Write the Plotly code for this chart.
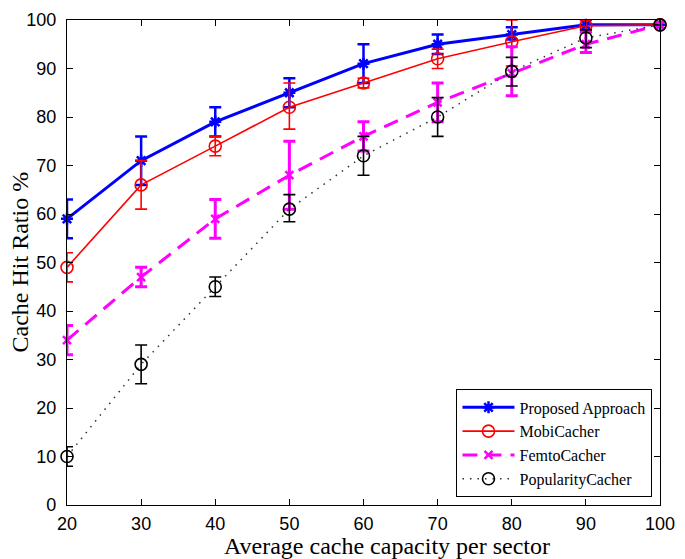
import plotly.graph_objects as go

x = [20, 30, 40, 50, 60, 70, 80, 90, 100]

proposed = [59, 71, 79, 85, 91, 95, 97, 99, 99]
proposed_lo = [55, 66, 76, 82, 87, 93, 96, 98, 99]
proposed_hi = [63, 76, 82, 88, 95, 97, 98.5, 100, 99]

mobi = [49, 66, 74, 82, 87, 92, 95.5, 98.8, 99]
mobi_lo = [46, 61, 72, 77.5, 86, 90, 90.5, 97.5, 99]
mobi_hi = [52, 71, 76, 87, 88, 94, 100, 100, 99]

femto = [34, 47, 59, 68, 76, 83, 89, 95, 99]
femto_lo = [31, 45, 55, 61, 73, 79, 84.4, 93.3, 99]
femto_hi = [37, 49, 63, 75, 79, 87, 94.5, 97.5, 99]

popular = [10, 29, 45, 61, 72, 80, 89.4, 96.3, 99]
popular_lo = [8, 25, 43, 58.4, 68, 76, 86.4, 94.3, 99]
popular_hi = [12, 33, 47, 64, 76, 84, 92.3, 98, 99]

x_title = "Average cache capacity per sector"
y_title = "Cache Hit Ratio %"

series = [
    ("Proposed Approach", proposed, proposed_lo, proposed_hi,
     dict(color="#0000ff", width=3, dash="solid"),
     dict(symbol="asterisk-open", size=10, color="#0000ff", line=dict(width=2.5, color="#0000ff")),
     2.5),
    ("MobiCacher", mobi, mobi_lo, mobi_hi,
     dict(color="#ff0000", width=1.6, dash="solid"),
     dict(symbol="circle-open", size=12, color="#ff0000", line=dict(width=1.6, color="#ff0000")),
     1.6),
    ("FemtoCacher", femto, femto_lo, femto_hi,
     dict(color="#ff00ff", width=3, dash="15px,9px"),
     dict(symbol="x-thin-open", size=8, color="#ff00ff", line=dict(width=2.5, color="#ff00ff")),
     3),
    ("PopularityCacher", popular, popular_lo, popular_hi,
     dict(color="#333333", width=1.5, dash="1.5px,6px"),
     dict(symbol="circle-open", size=12, color="#000000", line=dict(width=1.6, color="#000000")),
     1.6),
]

fig = go.Figure()
for name, y, lo, hi, line, marker, ew in series:
    plus = [h - v for h, v in zip(hi, y)]
    minus = [v - l for v, l in zip(y, lo)]
    fig.add_trace(go.Scatter(
        x=x, y=y, name=name, mode="lines+markers",
        line=line, marker=marker, cliponaxis=False,
        error_y=dict(type="data", array=plus, arrayminus=minus, symmetric=False,
                     color=marker["color"], thickness=ew, width=6),
    ))

axis_common = dict(
    showline=True, linecolor="black", linewidth=1.2, mirror="ticks",
    ticks="inside", ticklen=6, tickcolor="black", tickwidth=1,
    showgrid=False, zeroline=False,
    tickfont=dict(family="Liberation Sans, Arial, sans-serif", size=18, color="black"),
)

title_font = dict(family="Liberation Serif, Times New Roman, serif", size=24, color="black")

L, R, T, B = 67, 17, 10, 54
W, H = 685, 559

fig.update_layout(
    width=W, height=H,
    margin=dict(l=L, r=R, t=T, b=B),
    paper_bgcolor="white", plot_bgcolor="white",
    xaxis=dict(range=[20, 100], tickvals=x, ticklabelstandoff=2, **axis_common),
    yaxis=dict(range=[0, 100], tickvals=list(range(0, 101, 10)), ticklabelstandoff=6,
               **axis_common),
    legend=dict(
        x=0.987, y=0.016, xanchor="right", yanchor="bottom",
        bgcolor="white", bordercolor="black", borderwidth=1.2,
        font=dict(family="Liberation Serif, Times New Roman, serif", size=16, color="black"),
        tracegroupgap=0, itemwidth=52,
    ),
    showlegend=True,
    annotations=[
        dict(text=x_title, xref="paper", yref="paper", x=(391 - L) / (W - L - R), y=0,
             xanchor="center", yanchor="middle", yshift=-41, showarrow=False, font=title_font),
        dict(text=y_title, xref="paper", yref="paper", x=0, y=0.5, textangle=-90,
             xanchor="center", yanchor="middle", xshift=-48, showarrow=False, font=title_font),
    ],
)

fig.write_html("out.html", config={"displayModeBar": False},
               post_script="document.body.style.margin='0px';")
